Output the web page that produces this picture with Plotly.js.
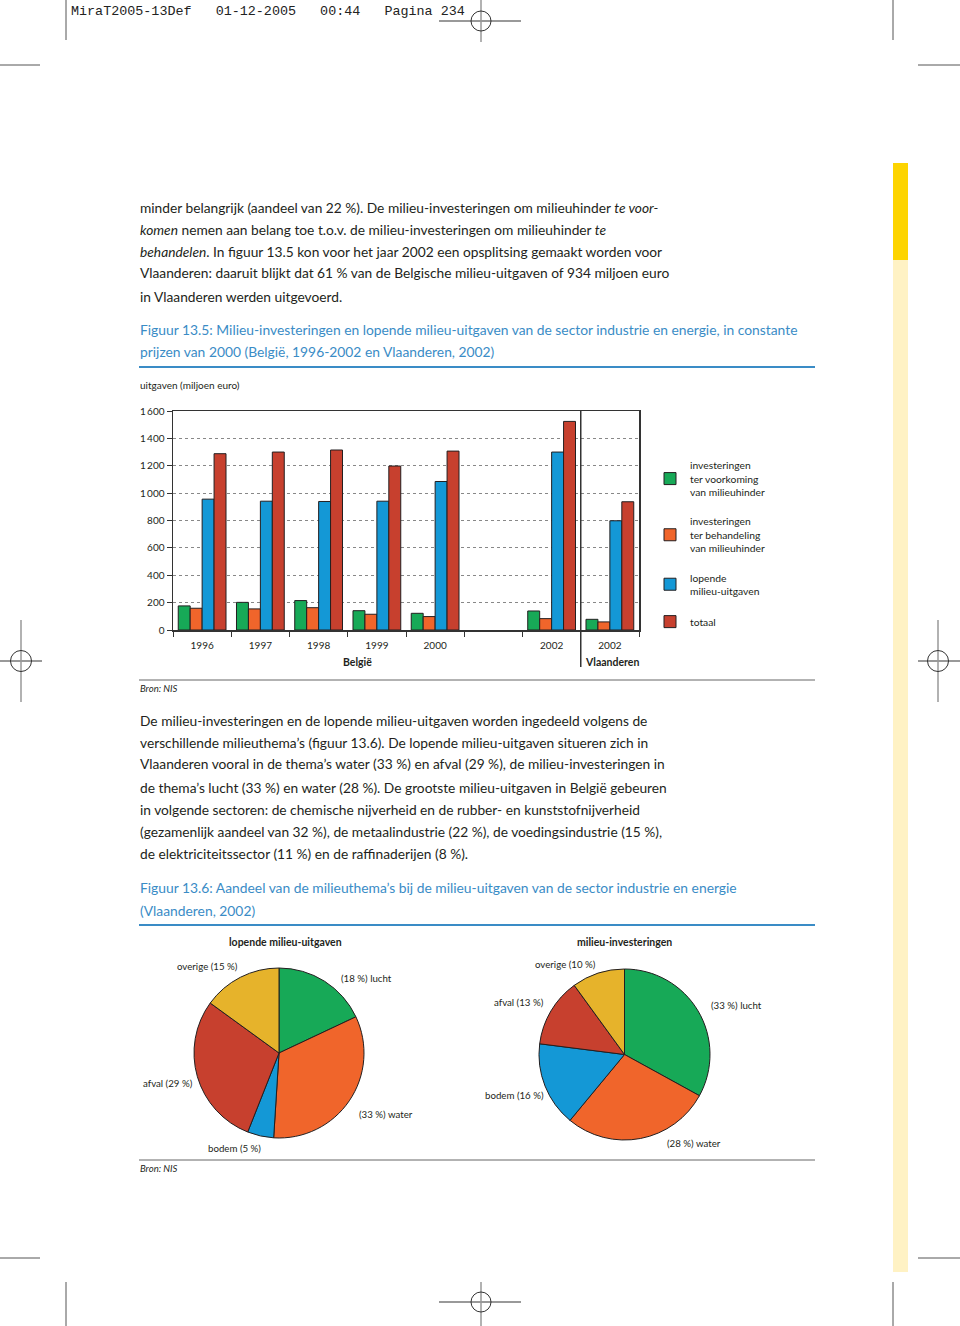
<!DOCTYPE html>
<html>
<head>
<meta charset="utf-8">
<script src="https://cdn.plot.ly/plotly-3.0.1.min.js"></script>
<style>
html,body{margin:0;padding:0;background:#fff;}
#chart{width:960px;height:1326px;}
</style>
</head>
<body>
<div id="chart"></div>
<script>
// ---------- DATA ----------
const categories = ["1996", "1997", "1998", "1999", "2000", "2001", "2002", "Vlaanderen 2002"];
const tickLabels = ["1996", "1997", "1998", "1999", "2000", "", "2002", "2002"];
const investVoorkoming = [176, 202, 215, 141, 122, null, 139, 78];
const investBehandeling = [159, 154, 163, 115, 98, null, 83, 59];
const lopendeUitgaven = [956, 941, 939, 941, 1085, null, 1300, 798];
const totaal = [1288, 1300, 1315, 1198, 1307, null, 1524, 937];
const seriesNames = [
  "investeringen<br>ter voorkoming<br>van milieuhinder",
  "investeringen<br>ter behandeling<br>van milieuhinder",
  "lopende<br>milieu-uitgaven",
  "totaal"
];
const themes = ["lucht", "water", "bodem", "afval", "overige"];
const lopendeShare = [18, 33, 5, 29, 15];
const investShare = [33, 28, 16, 13, 10];

// ---------- STYLE ----------
const colGreen = "#17a957", colOrange = "#f0652b", colBlue = "#1498d6", colRed = "#c7402e", colYellow = "#e6b32b";
const pieColors = [colGreen, colOrange, colBlue, colRed, colYellow];
const ink = "#231f20", blueTitle = "#3a8cc6", FONT = "Lato, sans-serif";
const W = 960, H = 1326;
const X = p => p / W, Y = p => 1 - p / H;

function txt(text, px, py, o) {
  o = o || {};
  return {xref: "paper", yref: "paper", x: X(px), y: Y(py), xanchor: o.xa || "left", yanchor: "middle",
    text: text, showarrow: false, borderpad: 0,
    font: {family: o.family || FONT, size: o.size || 13.75, color: o.color || ink}};
}
function line(x0, y0, x1, y1, color, width) {
  return {type: "line", xref: "paper", yref: "paper", x0: X(x0), y0: Y(y0), x1: X(x1), y1: Y(y1),
    line: {color: color, width: width}};
}
function circle(cx, cy, r) {
  return {type: "circle", xref: "paper", yref: "paper", x0: X(cx - r), x1: X(cx + r), y0: Y(cy + r), y1: Y(cy - r),
    line: {color: "#333", width: 1}};
}
function rect(x0, y0, x1, y1, fill) {
  return {type: "rect", xref: "paper", yref: "paper", x0: X(x0), x1: X(x1), y0: Y(y1), y1: Y(y0),
    fillcolor: fill, line: {width: 0}, layer: "below"};
}

// ---------- TRACES ----------
const barSeries = [investVoorkoming, investBehandeling, lopendeUitgaven, totaal];
const barColors = [colGreen, colOrange, colBlue, colRed];
const traces = barSeries.map((vals, i) => ({
  type: "bar", x: categories, y: vals, name: seriesNames[i], legendgroup: "g" + i,
  marker: {color: barColors[i], line: {color: ink, width: 1}},
  xaxis: "x", yaxis: "y", hoverinfo: "y"
}));
function pie(values, x0, x1, y0, y1) {
  return {type: "pie", values: values, labels: themes, sort: false, direction: "clockwise", rotation: 0,
    marker: {colors: pieColors, line: {color: ink, width: 1}}, textinfo: "none", showlegend: false,
    hoverinfo: "label+percent", domain: {x: [X(x0), X(x1)], y: [Y(y1), Y(y0)]}};
}
traces.push(pie(lopendeShare, 194, 364, 968, 1138));
traces.push(pie(investShare, 539, 710, 969, 1140));

// ---------- TEXT ----------
const ann = [];
ann.push(txt("MiraT2005-13Def\u00a0\u00a0\u00a001-12-2005\u00a0\u00a0\u00a000:44\u00a0\u00a0\u00a0Pagina\u00a0234", 70, 12,
  {family: "Liberation Mono, monospace", size: 13.4, color: "#222"}));
const para1 = [
  "minder belangrijk (aandeel van 22 %). De milieu-investeringen om milieuhinder <i>te voor-</i>",
  "<i>komen</i> nemen aan belang toe t.o.v. de milieu-investeringen om milieuhinder <i>te</i>",
  "<i>behandelen</i>. In figuur 13.5 kon voor het jaar 2002 een opsplitsing gemaakt worden voor",
  "Vlaanderen: daaruit blijkt dat 61 % van de Belgische milieu-uitgaven of 934 miljoen euro",
  "in Vlaanderen werden uitgevoerd."
];
[207, 229, 251, 273, 296].forEach((y, i) => ann.push(txt(para1[i], 139, y)));
ann.push(txt("Figuur 13.5: Milieu-investeringen en lopende milieu-uitgaven van de sector industrie en energie, in constante", 139, 329, {color: blueTitle, size: 13.83}));
ann.push(txt("prijzen van 2000 (België, 1996-2002 en Vlaanderen, 2002)", 139, 352, {color: blueTitle, size: 13.83}));
ann.push(txt("uitgaven (miljoen euro)", 139, 385, {size: 10}));
ann.push(txt("<b>België</b>", 357, 662, {size: 10.5, xa: "center"}));
ann.push(txt("<b>Vlaanderen</b>", 612, 662, {size: 10.5, xa: "center"}));
ann.push(txt("<i>Bron: NIS</i>", 139, 688, {size: 9.5}));
const para2 = [
  "De milieu-investeringen en de lopende milieu-uitgaven worden ingedeeld volgens de",
  "verschillende milieuthema’s (figuur 13.6). De lopende milieu-uitgaven situeren zich in",
  "Vlaanderen vooral in de thema’s water (33 %) en afval (29 %), de milieu-investeringen in",
  "de thema’s lucht (33 %) en water (28 %). De grootste milieu-uitgaven in België gebeuren",
  "in volgende sectoren: de chemische nijverheid en de rubber- en kunststofnijverheid",
  "(gezamenlijk aandeel van 32 %), de metaalindustrie (22 %), de voedingsindustrie (15 %),",
  "de elektriciteitssector (11 %) en de raffinaderijen (8 %)."
];
[720, 742, 764, 787, 809, 831, 853].forEach((y, i) => ann.push(txt(para2[i], 139, y)));
ann.push(txt("Figuur 13.6: Aandeel van de milieuthema’s bij de milieu-uitgaven van de sector industrie en energie", 139, 888, {color: blueTitle, size: 13.83}));
ann.push(txt("(Vlaanderen, 2002)", 139, 910, {color: blueTitle, size: 13.83}));
ann.push(txt("<b>lopende milieu-uitgaven</b>", 285, 942, {size: 10.5, xa: "center"}));
ann.push(txt("<b>milieu-investeringen</b>", 624, 942, {size: 10.5, xa: "center"}));
ann.push(txt("<i>Bron: NIS</i>", 139, 1168, {size: 9.5}));

// pie labels: value-first for lucht and water, name-first for the others
function pieLabel(i, shares) {
  return (i < 2) ? "(" + shares[i] + " %) " + themes[i] : themes[i] + " (" + shares[i] + " %)";
}
const leftPos = [[340, 978], [358, 1114], [207, 1148], [142, 1083], [176, 966]];
const rightPos = [[710, 1005], [666, 1143], [484, 1095], [493, 1002], [534, 964]];
themes.forEach((t, i) => {
  ann.push(txt(pieLabel(i, lopendeShare), leftPos[i][0], leftPos[i][1], {size: 9.7}));
  ann.push(txt(pieLabel(i, investShare), rightPos[i][0], rightPos[i][1], {size: 9.7}));
});

// ---------- SHAPES ----------
const shapes = [
  rect(893, 163, 908, 260, "#fdd400"),
  rect(893, 260, 908, 1272, "#fff2c4"),
  line(139, 367, 815, 367, blueTitle, 2),
  line(139, 925, 815, 925, blueTitle, 2),
  line(139, 680, 815, 680, "#666", 1),
  line(139, 1160, 815, 1160, "#666", 1),
  // crop marks
  line(66, 0, 66, 40, "#555", 1), line(893, 0, 893, 40, "#555", 1),
  line(0, 65, 40, 65, "#555", 1), line(918, 65, 960, 65, "#555", 1),
  line(66, 1282, 66, 1326, "#555", 1), line(893, 1282, 893, 1326, "#555", 1),
  line(0, 1258, 40, 1258, "#555", 1), line(918, 1258, 960, 1258, "#555", 1),
  // registration marks
  line(439, 21, 521, 21, "#999", 2), line(481, 0, 481, 42, "#999", 1.5), circle(481, 21, 10),
  line(0, 661, 42, 661, "#999", 2), line(21, 620, 21, 702, "#999", 1.5), circle(21, 661, 10.5),
  line(918, 661, 960, 661, "#999", 2), line(938, 620, 938, 702, "#999", 1.5), circle(938, 661, 10.5),
  line(439, 1302, 521, 1302, "#999", 2), line(481, 1282, 481, 1326, "#999", 1.5), circle(481, 1302, 10),
  // separator between België and Vlaanderen
  {type: "line", xref: "x", yref: "paper", x0: 6.5, x1: 6.5, y0: Y(667), y1: Y(411), line: {color: "#333", width: 1.5}}
];

const layout = {
  width: W, height: H, margin: {l: 0, r: 0, t: 0, b: 0},
  paper_bgcolor: "#fff", plot_bgcolor: "rgba(0,0,0,0)",
  font: {family: FONT, color: ink},
  separators: ",\u2009",
  barmode: "group", bargap: 0.18, bargroupgap: 0,
  showlegend: true,
  legend: {x: X(650), y: Y(452), xanchor: "left", yanchor: "top", font: {size: 10.3, color: ink},
    traceorder: "grouped", tracegroupgap: 13, itemwidth: 30, bgcolor: "rgba(0,0,0,0)", valign: "middle"},
  xaxis: {type: "category", domain: [X(173), X(639)], anchor: "y", categoryorder: "array", categoryarray: categories,
    tickmode: "array", tickvals: categories, ticktext: tickLabels, tickson: "boundaries",
    range: [-0.5, categories.length - 0.5], ticklabelstandoff: 5,
    ticks: "outside", ticklen: 5, tickcolor: "#333", tickwidth: 1, showline: true, linecolor: "#333", linewidth: 1.5,
    mirror: true, showgrid: false, tickfont: {size: 10, color: ink}, fixedrange: true},
  yaxis: {domain: [Y(630), Y(411)], anchor: "x", range: [0, 1600], tick0: 0, dtick: 200, tickformat: ",d",
    ticks: "outside", ticklen: 5, tickcolor: "#333", showline: true, linecolor: "#333", linewidth: 1.5, mirror: true,
    showgrid: true, gridcolor: "#888", griddash: "dot", gridwidth: 1, zeroline: false,
    tickfont: {size: 10, color: ink}, fixedrange: true},
  annotations: ann,
  shapes: shapes
};
Plotly.newPlot("chart", traces, layout, {displayModeBar: false, staticPlot: true});
</script>
</body>
</html>
